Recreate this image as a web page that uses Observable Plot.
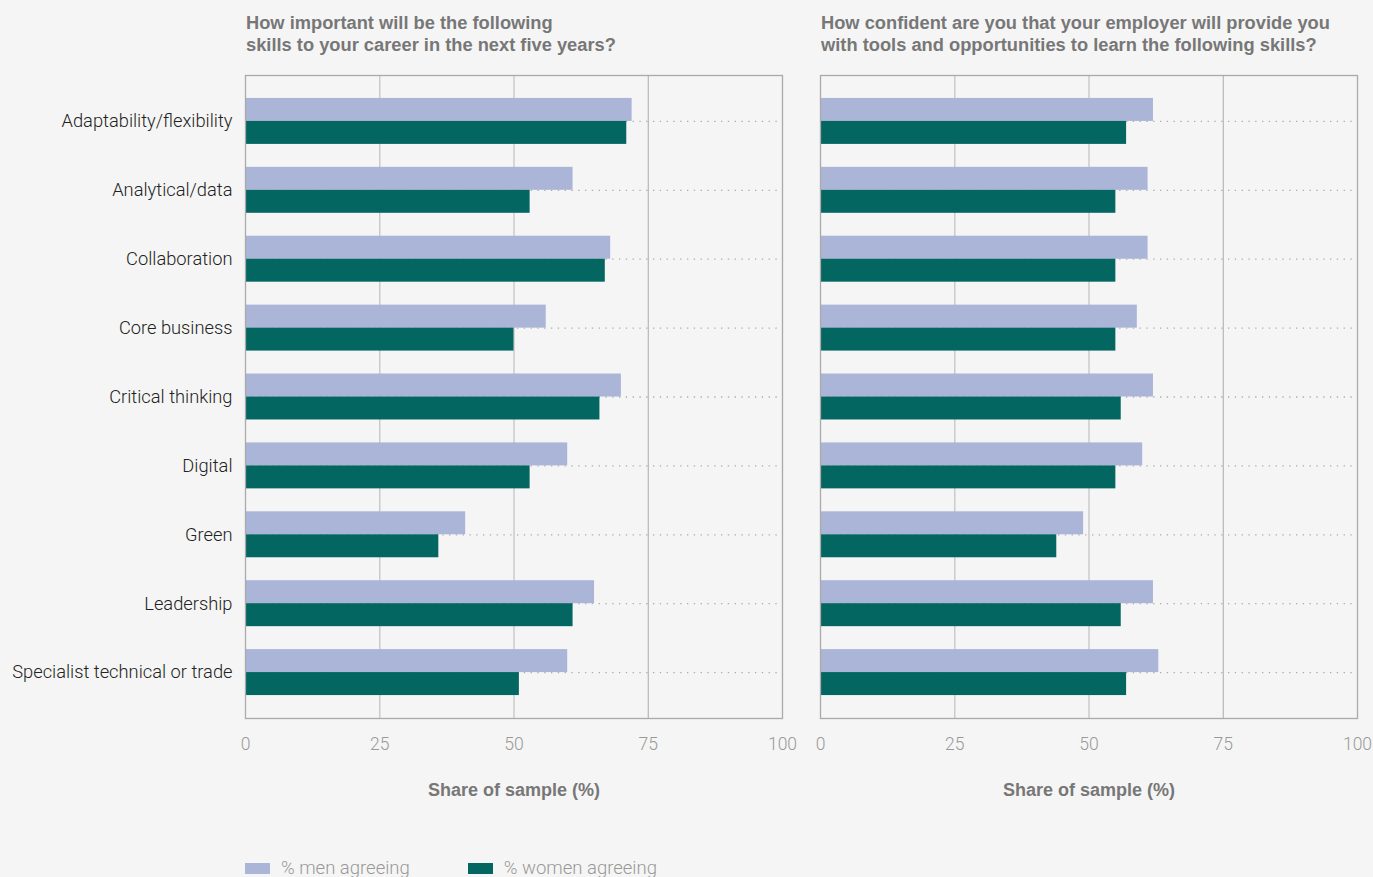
<!DOCTYPE html>
<html>
<head>
<meta charset="utf-8">
<script src="https://cdn.jsdelivr.net/npm/d3@7"></script>
<script src="https://cdn.jsdelivr.net/npm/@observablehq/plot@0.6"></script>
<style>
  html, body { margin: 0; padding: 0; background: #f5f5f5; width: 1373px; height: 877px; overflow: hidden; }
  #root { position: relative; width: 1373px; height: 877px; font-family: "Liberation Sans", Arial, sans-serif; }
  .title { position: absolute; top: 12px; font-weight: bold; font-size: 18.3px; line-height: 22px; color: #777; }
  .panel { position: absolute; top: 0; }
  .panel svg { overflow: visible; }
  .panel [aria-label="x-axis label"] text { font-weight: bold; fill: #777; font-family: "Liberation Sans", Arial, sans-serif; font-size: 18px; }
  .panel [aria-label="x-axis tick label"] text { font-family: Roboto, "Liberation Sans", sans-serif; font-weight: 300; font-size: 17.5px; fill: #999; }
  .panel [aria-label="y-axis tick label"] text { font-family: Roboto, "Liberation Sans", sans-serif; font-weight: 300; font-size: 18.3px; fill: #222; }
  .legend { position: absolute; top: 857px; left: 245px; display: flex; font-family: Roboto, "Liberation Sans", sans-serif; font-weight: 300; font-size: 18.5px; color: #999; }
  .legend .item { display: flex; align-items: center; margin-right: 58px; }
  .legend .sw { width: 25px; height: 11px; margin-right: 11px; }
</style>
</head>
<body>
<div id="root"></div>
<script>
const skills = [
  "Adaptability/flexibility",
  "Analytical/data",
  "Collaboration",
  "Core business",
  "Critical thinking",
  "Digital",
  "Green",
  "Leadership",
  "Specialist technical or trade"
];
const menImportant   = [72, 61, 68, 56, 70, 60, 41, 65, 60];
const womenImportant = [71, 53, 67, 50, 66, 53, 36, 61, 51];
const menConfident   = [62, 61, 61, 59, 62, 60, 49, 62, 63];
const womenConfident = [57, 55, 55, 55, 56, 55, 44, 56, 57];
const xTicks = [0, 25, 50, 75, 100];
const titles = [
  ["How important will be the following", "skills to your career in the next five years?"],
  ["How confident are you that your employer will provide you", "with tools and opportunities to learn the following skills?"]
];
const seriesNames = ["% men agreeing", "% women agreeing"];
const colors = ["#aab5d8", "#036660"];

const root = document.getElementById("root");

function panel(men, women, opts) {
  const rows = skills.map((s, i) => ({skill: s, men: men[i], women: women[i]}));
  return Plot.plot({
    width: opts.width,
    height: 810,
    marginTop: 75,
    marginBottom: 92,
    marginLeft: opts.marginLeft,
    marginRight: opts.marginRight,
    style: {background: "transparent", overflow: "visible"},
    x: {domain: [0, 100]},
    y: {domain: skills, paddingInner: 0.333, paddingOuter: 0.333, round: false},
    marks: [
      Plot.ruleX([25, 50], {stroke: "#cbcbcb", strokeWidth: 1.5}),
      Plot.ruleX([75], {stroke: "#aaa", strokeWidth: 1}),
      Plot.ruleY(rows, {y: "skill", x1: 0, x2: 100, stroke: "#aaa", strokeDasharray: "1.3,5.5", strokeWidth: 1.3}),
      Plot.barX(rows, {x: "men", y: "skill", fill: colors[0], insetBottom: 22.96}),
      Plot.barX(rows, {x: "women", y: "skill", fill: colors[1], insetTop: 22.96}),
      Plot.frame({stroke: "#aaa", strokeWidth: 1.3}),
      Plot.axisX({ticks: xTicks, tickSize: 0, tickPadding: 19, tickFormat: d => String(d),
        label: "Share of sample (%)", labelAnchor: "center", labelOffset: 77, labelArrow: "none"}),
      opts.showY ? Plot.axisY({tickSize: 0, tickPadding: 13, label: null}) : Plot.axisY({ticks: [], label: null})
    ]
  });
}

const p1 = document.createElement("div");
p1.className = "panel"; p1.style.left = "0px";
p1.appendChild(panel(menImportant, womenImportant, {width: 802, marginLeft: 245, marginRight: 20, showY: true}));
root.appendChild(p1);

const p2 = document.createElement("div");
p2.className = "panel"; p2.style.left = "802px";
p2.appendChild(panel(menConfident, womenConfident, {width: 571, marginLeft: 18, marginRight: 16, showY: false}));
root.appendChild(p2);

[[246, titles[0]], [821, titles[1]]].forEach(([x, t]) => {
  const d = document.createElement("div");
  d.className = "title"; d.style.left = x + "px";
  d.innerHTML = t.join("<br>");
  root.appendChild(d);
});

const lg = document.createElement("div");
lg.className = "legend";
seriesNames.forEach((n, i) => {
  const it = document.createElement("div"); it.className = "item";
  const sw = document.createElement("div"); sw.className = "sw"; sw.style.background = colors[i];
  const tx = document.createElement("span"); tx.textContent = n;
  it.appendChild(sw); it.appendChild(tx); lg.appendChild(it);
});
root.appendChild(lg);
</script>
</body>
</html>
